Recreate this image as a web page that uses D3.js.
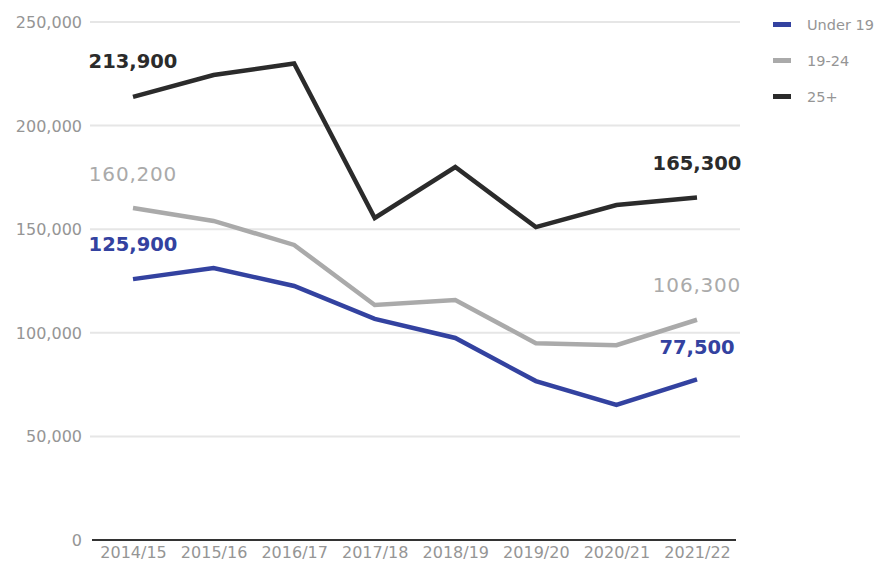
<!DOCTYPE html>
<html>
<head>
<meta charset="utf-8">
<script src="https://cdn.jsdelivr.net/npm/d3@7"></script>
<style>
body { margin: 0; background: #fff; }
text { font-family: "DejaVu Sans", Verdana, sans-serif; }
</style>
</head>
<body>
<div id="chart"></div>
<script>
var years = ["2014/15", "2015/16", "2016/17", "2017/18", "2018/19", "2019/20", "2020/21", "2021/22"];
var under19 = [125900, 131300, 122600, 106700, 97500, 76700, 65200, 77500];
var age1924 = [160200, 154000, 142400, 113400, 115800, 95000, 94000, 106300];
var age25 = [213900, 224400, 230000, 155400, 180000, 151000, 161700, 165300];
var yTicks = [0, 50000, 100000, 150000, 200000, 250000];

var series = [
	{ name: "Under 19", values: under19, color: "#3342a0" },
	{ name: "19-24", values: age1924, color: "#aaaaaa" },
	{ name: "25+", values: age25, color: "#2b2b2b" }
];

var width = 886, height = 565;
var svg = d3.select("#chart").append("svg")
	.attr("width", width)
	.attr("height", height);

var x = d3.scalePoint().domain(years).range([133, 697]);
var y = d3.scaleLinear().domain([0, 250000]).range([540, 22]);
var fmt = d3.format(",");

// gridlines
svg.selectAll("line.grid")
	.data(yTicks.filter(function(d) { return d > 0; }))
	.enter().append("line")
	.attr("class", "grid")
	.attr("x1", 90).attr("x2", 740)
	.attr("y1", function(d) { return y(d); })
	.attr("y2", function(d) { return y(d); })
	.attr("stroke", "#e6e6e6")
	.attr("stroke-width", 2);

// y labels
svg.selectAll("text.ytick")
	.data(yTicks)
	.enter().append("text")
	.attr("class", "ytick")
	.attr("x", 82)
	.attr("y", function(d) { return y(d) + 6; })
	.attr("text-anchor", "end")
	.attr("font-size", 16)
	.attr("fill", "#959595")
	.text(function(d) { return fmt(d); });

// x axis
var xAxis = svg.append("g")
	.attr("transform", "translate(0," + y(0) + ")")
	.call(d3.axisBottom(x).tickSize(0).tickPadding(7));
xAxis.select(".domain").remove();
xAxis.selectAll("text")
	.attr("font-size", 16)
	.attr("fill", "#959595")
	.style("font-family", "DejaVu Sans, Verdana, sans-serif");
svg.append("line")
	.attr("x1", 92).attr("x2", 736)
	.attr("y1", y(0)).attr("y2", y(0))
	.attr("stroke", "#333")
	.attr("stroke-width", 2);

// lines
var line = d3.line()
	.x(function(d, i) { return x(years[i]); })
	.y(function(d) { return y(d); });

svg.selectAll("path.series")
	.data(series)
	.enter().append("path")
	.attr("class", "series")
	.attr("d", function(d) { return line(d.values); })
	.attr("fill", "none")
	.attr("stroke", function(d) { return d.color; })
	.attr("stroke-width", 4.5)
	.attr("stroke-linejoin", "miter");

// end labels
var labels = [
	{ s: 2, i: 0, dy: -29, bold: true },
	{ s: 1, i: 0, dy: -27, bold: false },
	{ s: 0, i: 0, dy: -28, bold: true },
	{ s: 2, i: 7, dy: -27, bold: true },
	{ s: 1, i: 7, dy: -28, bold: false },
	{ s: 0, i: 7, dy: -25, bold: true }
];
svg.selectAll("text.val")
	.data(labels)
	.enter().append("text")
	.attr("class", "val")
	.attr("x", function(d) { return x(years[d.i]); })
	.attr("y", function(d) { return y(series[d.s].values[d.i]) + d.dy; })
	.attr("text-anchor", "middle")
	.attr("font-size", function(d) { return d.bold ? 19.5 : 20; })
	.attr("letter-spacing", function(d) { return d.bold ? 0 : 0.8; })
	.attr("font-weight", function(d) { return d.bold ? "bold" : "normal"; })
	.attr("fill", function(d) { return series[d.s].color; })
	.text(function(d) { return fmt(series[d.s].values[d.i]); });

// legend
var legend = svg.selectAll("g.legend")
	.data(series)
	.enter().append("g")
	.attr("class", "legend")
	.attr("transform", function(d, i) { return "translate(773," + (24 + i * 36) + ")"; });
legend.append("rect")
	.attr("x", 0).attr("y", -2)
	.attr("width", 18).attr("height", 5)
	.attr("fill", function(d) { return d.color; });
legend.append("text")
	.attr("x", 34).attr("y", 6)
	.attr("font-size", 14.5)
	.attr("fill", "#959595")
	.text(function(d) { return d.name; });
</script>
</body>
</html>
